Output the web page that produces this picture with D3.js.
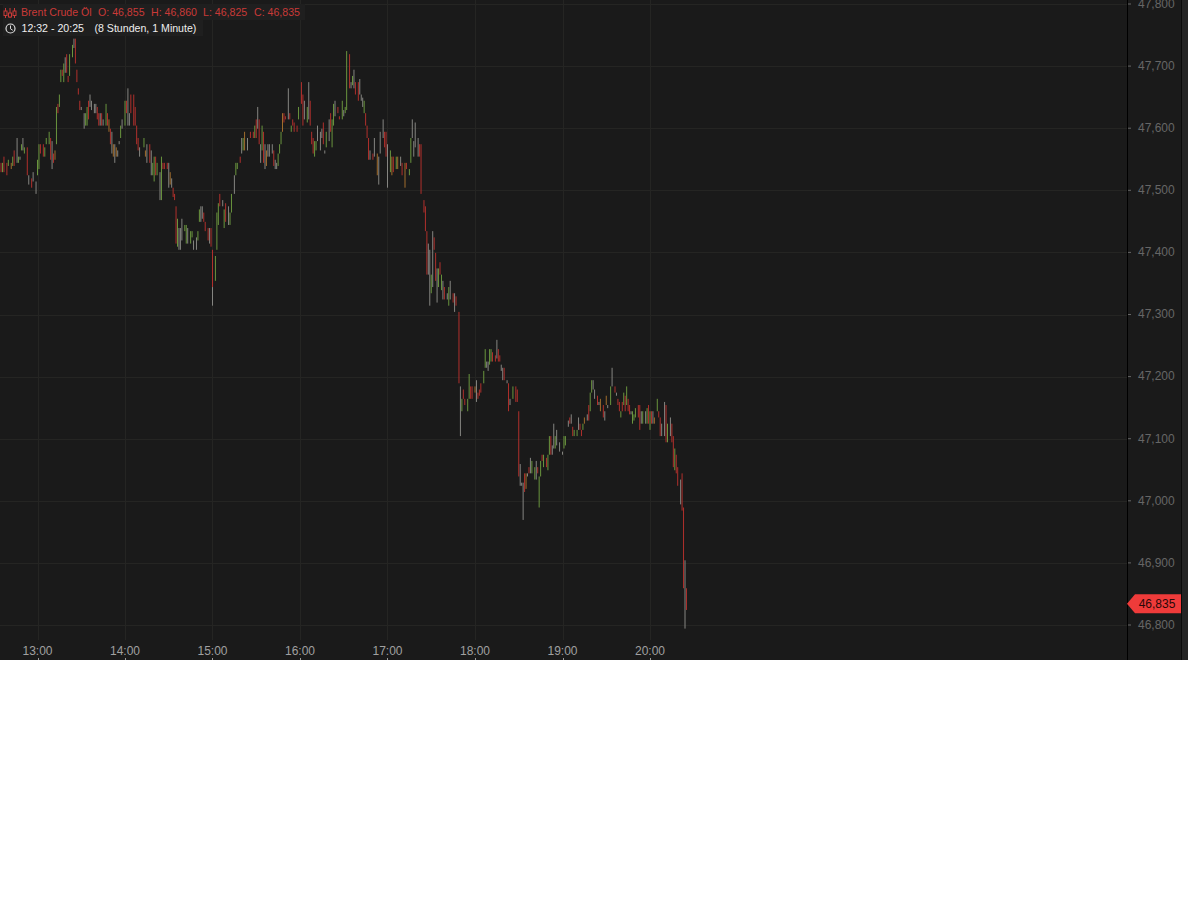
<!DOCTYPE html>
<html><head><meta charset="utf-8">
<script src="https://cdn.jsdelivr.net/npm/d3@7/dist/d3.min.js"></script>
<style>html,body{margin:0;padding:0;background:#fff}svg{display:block}text{font-family:"Liberation Sans",Arial,sans-serif}</style>
</head><body><svg id="c" width="1188" height="904"></svg>
<script>
const priceTicks=[46800,46900,47000,47100,47200,47300,47400,47500,47600,47700,47800];
const timeLabels=["13:00","14:00","15:00","16:00","17:00","18:00","19:00","20:00"];
const timeMinutes=[28,88,148,208,268,328,388,448];
const legendTitle="Brent Crude Öl";
const legendValues=["O: 46,855","H: 46,860","L: 46,825","C: 46,835"];
const rangeText="12:32 - 20:25";
const spanText="(8 Stunden, 1 Minute)";
const lastPrice=46835;
const barMinute=[
3,4,5,7,8,10,11,12,14,15,16,17,18,19,21,22,24,25,27,28,29,30,32,33,34,36,37,38,39,40,
41,42,43,44,45,46,47,48,49,50,52,53,54,55,56,57,58,60,61,62,63,64,65,67,68,69,70,71,72,73,
75,76,77,78,79,80,81,82,83,84,85,86,88,89,90,91,92,94,95,96,97,98,101,102,103,105,106,107,108,109,
110,112,113,114,115,117,118,119,120,121,122,123,124,125,126,127,129,130,131,133,134,135,137,138,139,140,141,142,143,145,
146,147,148,150,151,152,153,155,156,157,159,160,161,163,164,165,167,168,169,170,172,174,176,177,178,179,180,181,182,183,
184,185,186,187,189,190,191,192,193,194,195,196,197,198,200,201,202,203,204,206,207,209,210,211,213,214,215,216,217,218,
219,220,222,223,224,225,226,228,229,230,231,232,234,235,237,238,239,240,242,243,244,245,246,248,249,250,251,252,253,254,
255,256,258,259,261,262,263,265,266,267,268,270,271,272,274,275,277,278,280,281,283,284,285,286,287,289,290,291,293,294,
295,296,297,298,299,300,301,302,303,304,305,306,307,309,310,311,313,314,315,317,318,319,320,321,323,324,325,326,328,329,
330,331,332,334,335,336,337,338,339,340,342,343,344,345,346,347,348,350,351,352,354,356,357,358,359,360,361,362,363,364,
365,366,367,369,370,371,372,373,374,375,377,378,379,380,381,382,383,384,386,388,389,390,392,393,394,395,396,398,399,400,
401,402,403,405,406,407,408,409,410,412,413,414,416,417,418,419,421,422,424,425,426,427,428,429,430,431,432,433,434,435,
436,437,438,440,441,442,443,445,446,447,448,449,450,451,453,454,455,456,458,459,460,462,463,464,465,466,467,469,470,471,
472,473,148];
const barHigh=[
47545,47545,47555,47545,47550,47545,47555,47565,47585,47555,47555,47575,47585,47570,47570,47525,47520,47530,47515,47550,47575,47575,47575,47570,47585,47595,47585,47580,47560,47565,
47635,47640,47655,47695,47695,47705,47715,47720,47685,47720,47735,47745,47745,47695,47665,47645,47635,47625,47625,47635,47645,47655,47645,47640,47640,47635,47625,47625,47625,47615,
47640,47625,47615,47600,47595,47575,47575,47570,47565,47580,47605,47615,47645,47645,47665,47625,47655,47655,47635,47605,47585,47570,47585,47565,47575,47575,47565,47545,47555,47555,
47545,47530,47555,47545,47545,47545,47545,47530,47520,47505,47495,47475,47455,47440,47440,47455,47445,47445,47440,47435,47435,47420,47425,47435,47470,47475,47475,47465,47450,47440,
47440,47440,47405,47395,47465,47480,47495,47485,47470,47480,47475,47465,47495,47525,47545,47545,47555,47585,47585,47595,47585,47595,47595,47605,47615,47635,47615,47575,47605,47595,
47575,47565,47575,47575,47575,47565,47550,47545,47560,47575,47595,47625,47625,47620,47665,47625,47605,47615,47610,47605,47635,47675,47655,47645,47635,47675,47645,47595,47585,47580,
47580,47605,47595,47600,47610,47565,47595,47615,47625,47615,47640,47645,47635,47620,47645,47630,47635,47725,47720,47675,47685,47695,47675,47675,47680,47655,47650,47645,47625,47605,
47585,47565,47560,47585,47560,47555,47595,47615,47595,47595,47575,47565,47555,47555,47555,47555,47555,47545,47545,47545,47535,47585,47615,47580,47610,47585,47575,47575,47485,47475,
47435,47415,47405,47365,47435,47425,47400,47375,47375,47385,47365,47355,47345,47335,47345,47355,47335,47335,47330,47305,47185,47165,47180,47165,47165,47205,47185,47185,47185,47195,
47175,47180,47190,47210,47245,47225,47225,47245,47245,47240,47235,47260,47245,47235,47220,47215,47215,47195,47190,47165,47185,47185,47180,47145,47060,47030,47030,47045,47045,47045,
47055,47070,47065,47055,47065,47055,47040,47065,47075,47075,47070,47075,47105,47105,47090,47125,47105,47115,47095,47080,47105,47105,47130,47135,47140,47120,47115,47115,47135,47125,
47115,47125,47135,47140,47155,47175,47195,47195,47180,47170,47160,47165,47155,47145,47170,47155,47185,47215,47185,47175,47165,47160,47145,47160,47175,47170,47185,47165,47155,47145,
47145,47140,47150,47155,47155,47145,47145,47145,47150,47155,47145,47145,47145,47135,47165,47145,47135,47125,47160,47155,47125,47135,47125,47105,47085,47075,47055,47035,47045,46990,
46905,46860,47345];
const barLow=[
47530,47530,47530,47525,47540,47535,47540,47540,47545,47545,47550,47565,47565,47560,47525,47510,47505,47515,47495,47525,47535,47560,47555,47555,47575,47575,47550,47535,47545,47550,
47575,47625,47635,47675,47685,47675,47690,47690,47675,47685,47715,47730,47705,47675,47655,47630,47630,47600,47605,47605,47615,47635,47630,47625,47625,47615,47605,47605,47605,47605,
47605,47605,47595,47575,47560,47555,47545,47555,47555,47575,47585,47600,47605,47625,47605,47605,47625,47605,47605,47575,47565,47555,47570,47555,47545,47545,47525,47525,47515,47525,
47525,47485,47485,47535,47535,47535,47505,47510,47505,47490,47485,47415,47410,47405,47405,47420,47435,47415,47415,47415,47425,47405,47405,47420,47450,47450,47455,47450,47435,47420,
47415,47410,47345,47355,47405,47445,47475,47475,47440,47450,47445,47445,47465,47495,47525,47535,47545,47560,47565,47565,47565,47585,47585,47585,47585,47600,47575,47545,47565,47545,
47535,47540,47555,47555,47560,47540,47535,47535,47540,47560,47575,47595,47610,47615,47615,47615,47595,47605,47595,47595,47615,47640,47605,47615,47610,47615,47605,47575,47560,47555,
47565,47580,47565,47585,47575,47560,47570,47580,47595,47570,47605,47620,47625,47615,47615,47620,47625,47630,47665,47665,47670,47665,47655,47645,47655,47645,47635,47625,47605,47585,
47550,47550,47550,47555,47525,47510,47560,47585,47570,47555,47505,47530,47525,47530,47535,47535,47540,47525,47505,47535,47525,47545,47585,47555,47570,47555,47555,47495,47465,47435,
47365,47365,47315,47335,47345,47405,47355,47320,47345,47365,47340,47325,47325,47325,47315,47325,47320,47305,47315,47190,47105,47145,47165,47155,47145,47165,47165,47165,47175,47160,
47165,47170,47175,47190,47215,47215,47210,47220,47225,47225,47225,47230,47225,47225,47210,47195,47195,47190,47145,47155,47165,47160,47160,47040,47025,47025,46970,47015,47020,47040,
47045,47045,47045,47035,47035,47045,46990,47040,47065,47055,47055,47050,47075,47075,47075,47085,47085,47090,47080,47075,47085,47090,47120,47125,47125,47105,47105,47105,47115,47115,
47105,47115,47125,47130,47130,47145,47175,47180,47165,47155,47155,47145,47135,47130,47155,47150,47155,47185,47175,47170,47155,47145,47135,47145,47155,47145,47155,47145,47140,47140,
47125,47130,47135,47135,47115,47125,47125,47125,47125,47125,47115,47125,47125,47125,47145,47135,47105,47105,47105,47095,47095,47105,47095,47055,47050,47045,47025,46995,46985,46860,
46795,46825,47315];
const barTone=[
"rgrrgogragagagraraaggrrgggraro",
"grggrgarrggarrrraaggraaaarrara",
"groraoaoaagagraarrrrragoaraggr",
"gagrrraoarrrgaaaggaggaaggaarrr",
"arrgggragraggaggragoarrgraragr",
"aoaaaraagggorrargrrrgrragarrrg",
"gaaaragarggarrgaggragarraaagrr",
"raraoaaarragorgoarorggaaaarrrr",
"raagarragrgaragararragrrggrroa",
"rrrggaaggrrarraararagrrraaaroa",
"raggarggrgrggraagaaaggararggar",
"rgoarggaaraoraoagararrgrgrgrra",
"gggrragagrgraogrraargarrgrrarr",
"ara"
].join("");
const toneColor={r:"#b0302c",g:"#6a953e",a:"#858581",o:"#a06c2c"};

const W=1188,H=904,plotR=1127,axisR=1182,plotB=660;
const y=d3.scaleLinear().domain([46800,47800]).range([625.5,4.5]);
const x=d3.scaleLinear().domain([28,448]).range([37.5,650]);
const svg=d3.select("#c");
svg.append("rect").attr("width",W).attr("height",plotB).attr("fill","#1a1a1a");
svg.append("rect").attr("x",axisR).attr("width",W-axisR).attr("height",plotB).attr("fill","#242424");
const grid="#252523";
svg.append("g").selectAll("line").data(priceTicks).join("line")
 .attr("x1",0).attr("x2",plotR).attr("y1",d=>Math.floor(y(d))+.5).attr("y2",d=>Math.floor(y(d))+.5).attr("stroke",grid);
svg.append("g").selectAll("line").data(timeMinutes).join("line")
 .attr("x1",d=>Math.round(x(d))+.5).attr("x2",d=>Math.round(x(d))+.5).attr("y1",0).attr("y2",640).attr("stroke",grid);
svg.append("line").attr("x1",plotR+.5).attr("x2",plotR+.5).attr("y1",0).attr("y2",plotB).attr("stroke","#000");
svg.append("line").attr("x1",axisR-.5).attr("x2",axisR-.5).attr("y1",0).attr("y2",plotB).attr("stroke","#0a0a0a");

svg.append("g").selectAll("line").data(d3.range(barMinute.length)).join("line")
 .attr("x1",i=>x(barMinute[i])).attr("x2",i=>x(barMinute[i]))
 .attr("y1",i=>y(barHigh[i])).attr("y2",i=>y(barLow[i]))
 .attr("stroke",i=>toneColor[barTone[i]]||toneColor.a).attr("stroke-width",1);

const ya=d3.axisRight(y).tickValues(priceTicks).tickFormat(d3.format(",")).tickSize(3).tickPadding(7);
const gy=svg.append("g").attr("transform",`translate(${plotR+1},-1)`).call(ya);
gy.select(".domain").remove();
gy.selectAll("line").attr("stroke","#666");
gy.selectAll("text").attr("fill","#666").attr("font-size",12).attr("dy",".32em");

svg.append("g").selectAll("text").data(timeLabels).join("text")
 .attr("x",(d,i)=>x(timeMinutes[i])).attr("y",655).attr("text-anchor","middle")
 .attr("fill","#a0a0a0").attr("font-size",12).text(d=>d);
svg.append("g").selectAll("line").data(timeMinutes).join("line")
 .attr("x1",d=>Math.round(x(d))+.5).attr("x2",d=>Math.round(x(d))+.5).attr("y1",658).attr("y2",plotB).attr("stroke","#999");

const ty=y(lastPrice);
svg.append("polygon").attr("points",[[plotR,ty],[plotR+8,ty-9.5],[axisR-1,ty-9.5],[axisR-1,ty+9.5],[plotR+8,ty+9.5]].join(" ")).attr("fill","#ef3b3a");
svg.append("text").attr("x",plotR+30).attr("y",ty+4.5).attr("text-anchor","middle").attr("font-size",12).attr("fill","#2a0808").text(d3.format(",")(lastPrice));

const lg=svg.append("g");
lg.append("rect").attr("x",3).attr("y",4).attr("width",302).attr("height",16).attr("fill","#1f1f1f");
lg.append("rect").attr("x",3).attr("y",20).attr("width",200).attr("height",16).attr("fill","#1f1f1f");
const red="#c93a38";
[[5.5,8,18,11,15.5],[10,8,18,13,17],[14.5,8,18,11,15.5]].forEach(a=>{
 lg.append("line").attr("x1",a[0]).attr("x2",a[0]).attr("y1",a[1]).attr("y2",a[2]).attr("stroke",red);
 lg.append("rect").attr("x",a[0]-1.5).attr("y",a[3]).attr("width",3).attr("height",a[4]-a[3]).attr("fill","#1f1f1f").attr("stroke",red);
});
lg.append("text").attr("x",21).attr("y",16).attr("font-size",10.6).attr("fill",red).text(legendTitle);
[98,151,203,254].forEach((px,i)=>lg.append("text").attr("x",px).attr("y",16).attr("font-size",10.6).attr("fill",red).text(legendValues[i]));
lg.append("circle").attr("cx",10.5).attr("cy",28.5).attr("r",4.5).attr("fill","none").attr("stroke","#ddd").attr("stroke-width",1.2);
lg.append("path").attr("d","M10.5 25.5V28.8L12.8 30.3").attr("fill","none").attr("stroke","#ddd");
lg.append("text").attr("x",21.5).attr("y",32).attr("font-size",10.6).attr("fill","#eee").text(rangeText);
lg.append("text").attr("x",94.5).attr("y",32).attr("font-size",10.6).attr("fill","#eee").text(spanText);
</script></body></html>
